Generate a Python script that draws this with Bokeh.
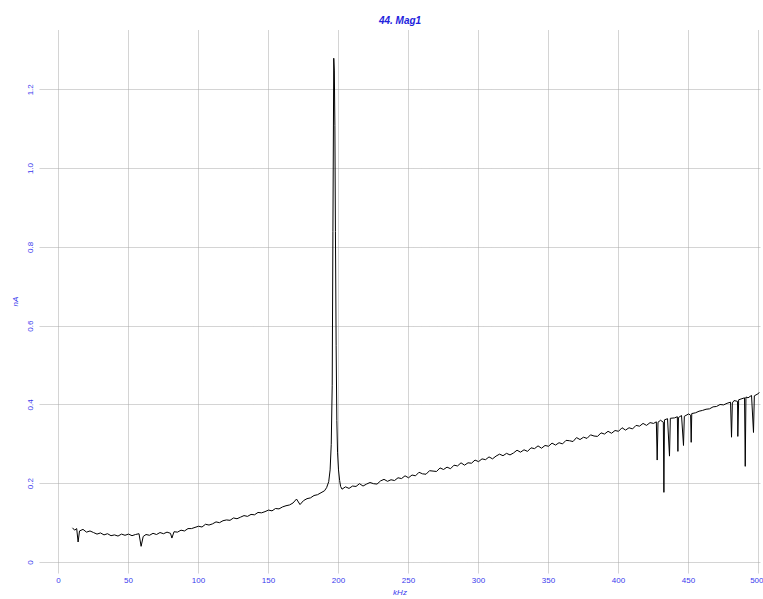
from bokeh.plotting import figure
from bokeh.models import FixedTicker, Range1d
from bokeh.embed import file_html
from bokeh.resources import INLINE

# ---- data ----
freq_khz = [
    10.0, 11.5, 13.0, 14.0, 15.0, 17.5, 20.0, 22.5, 25.0, 27.5,
    30.0, 32.5, 35.0, 37.5, 40.0, 42.5, 45.0, 47.5, 50.0, 52.5,
    55.0, 57.5, 59.0, 60.5, 62.5, 65.0, 67.5, 70.0, 72.5, 75.0,
    77.5, 80.0, 81.0, 82.5, 85.0, 87.5, 90.0, 92.5, 95.0, 97.5,
    100.0, 102.5, 105.0, 107.5, 110.0, 112.5, 115.0, 117.5, 120.0, 122.5,
    125.0, 127.5, 130.0, 132.5, 135.0, 137.5, 140.0, 142.5, 145.0, 147.5,
    150.0, 152.5, 155.0, 157.5, 160.0, 162.5, 165.0, 167.5, 170.0, 172.5,
    175.0, 177.5, 180.0, 182.5, 185.0, 187.5, 190.0, 191.5, 193.0,
    194.0, 194.8, 195.5, 196.0, 196.6, 197.0, 197.4, 197.8, 198.3, 198.8,
    199.3, 200.0, 200.8, 201.5, 202.5,
    205.0, 207.5, 210.0, 212.5, 215.0, 217.5, 220.0, 222.5, 225.0, 227.5,
    230.0, 232.5, 235.0, 237.5, 240.0, 242.5, 245.0, 247.5, 250.0, 252.5,
    255.0, 257.5, 260.0, 262.5, 265.0, 267.5, 270.0, 272.5, 275.0, 277.5,
    280.0, 282.5, 285.0, 287.5, 290.0, 292.5, 295.0, 297.5, 300.0, 302.5,
    305.0, 307.5, 310.0, 312.5, 315.0, 317.5, 320.0, 322.5, 325.0, 327.5,
    330.0, 332.5, 335.0, 337.5, 340.0, 342.5, 345.0, 347.5, 350.0, 352.5,
    355.0, 357.5, 360.0, 362.5, 365.0, 367.5, 370.0, 372.5, 375.0, 377.5,
    380.0, 382.5, 385.0, 387.5, 390.0, 392.5, 395.0, 397.5, 400.0, 402.5,
    405.0, 407.5, 410.0, 412.5, 415.0, 417.5, 420.0, 422.5, 425.0, 427.0,
    427.6, 428.2, 430.0, 432.0, 432.4, 432.8, 435.0, 436.4, 437.0, 440.0,
    442.0, 442.4, 442.8, 445.0, 446.4, 447.0, 450.0, 451.5, 451.9, 452.3,
    455.0, 457.5, 460.0, 462.5, 465.0, 467.5, 470.0, 472.5, 475.0, 477.5,
    480.0, 480.7, 481.3, 482.5, 485.0, 485.2, 485.8, 487.5, 490.0, 490.5,
    491.0, 492.5, 495.0, 496.4, 497.0, 500.0, 500.5,
]
mag_na = [
    0.088, 0.082, 0.086, 0.052, 0.080, 0.084, 0.077, 0.080, 0.076, 0.072,
    0.075, 0.070, 0.073, 0.068, 0.070, 0.067, 0.072, 0.069, 0.072, 0.068,
    0.071, 0.073, 0.041, 0.066, 0.071, 0.069, 0.074, 0.071, 0.076, 0.073,
    0.077, 0.074, 0.062, 0.078, 0.077, 0.082, 0.080, 0.086, 0.086, 0.089,
    0.092, 0.090, 0.097, 0.095, 0.098, 0.103, 0.101, 0.106, 0.108, 0.107,
    0.113, 0.111, 0.115, 0.119, 0.117, 0.122, 0.121, 0.127, 0.126, 0.129,
    0.133, 0.131, 0.137, 0.136, 0.141, 0.144, 0.146, 0.151, 0.161, 0.147,
    0.157, 0.162, 0.164, 0.170, 0.172, 0.177, 0.182, 0.190, 0.205,
    0.235, 0.300, 0.450, 0.840, 1.280, 1.250, 1.110, 0.840, 0.550, 0.360,
    0.280, 0.235, 0.208, 0.193, 0.186,
    0.192, 0.188, 0.194, 0.193, 0.200, 0.194, 0.199, 0.203, 0.200, 0.199,
    0.207, 0.211, 0.206, 0.210, 0.208, 0.215, 0.213, 0.220, 0.215, 0.222,
    0.220, 0.229, 0.225, 0.224, 0.233, 0.232, 0.231, 0.240, 0.236, 0.242,
    0.238, 0.247, 0.245, 0.253, 0.247, 0.253, 0.252, 0.260, 0.256, 0.263,
    0.261, 0.268, 0.263, 0.270, 0.275, 0.271, 0.277, 0.273, 0.278, 0.285,
    0.280, 0.286, 0.282, 0.291, 0.289, 0.296, 0.290, 0.297, 0.295, 0.303,
    0.298, 0.304, 0.301, 0.310, 0.309, 0.307, 0.317, 0.312, 0.318, 0.315,
    0.324, 0.321, 0.320, 0.329, 0.326, 0.333, 0.328, 0.335, 0.333, 0.342,
    0.336, 0.342, 0.339, 0.348, 0.346, 0.353, 0.348, 0.355, 0.353, 0.357,
    0.260, 0.356, 0.361, 0.356, 0.178, 0.362, 0.365, 0.270, 0.366, 0.367,
    0.370, 0.282, 0.368, 0.373, 0.297, 0.371, 0.377, 0.374, 0.305, 0.378,
    0.380, 0.384, 0.386, 0.389, 0.390, 0.395, 0.396, 0.401, 0.400, 0.404,
    0.407, 0.318, 0.405, 0.411, 0.409, 0.320, 0.413, 0.415, 0.418, 0.244,
    0.420, 0.418, 0.424, 0.330, 0.423, 0.429, 0.432,
]

x_ticks = [0, 50, 100, 150, 200, 250, 300, 350, 400, 450, 500]
y_ticks = [0, 0.2, 0.4, 0.6, 0.8, 1.0, 1.2]
y_tick_labels = ["0", "0.2", "0.4", "0.6", "0.8", "1.0", "1.2"]

title_text = "44. Mag1"
x_label = "kHz"
y_label = "nA"

BLUE = "#3a3aee"
FONT = "Liberation Sans"

p = figure(
    width=763, height=599,
    output_backend="svg", toolbar_location=None,
    x_range=Range1d(-13.57, 501.4), y_range=Range1d(-0.028, 1.353),
    min_border_left=39, min_border_right=3, min_border_top=29, min_border_bottom=26,
    background_fill_color="white", border_fill_color="white",
)
p.outline_line_color = None

p.title.text = title_text
p.title.align = "center"
p.title.text_color = "#2222dd"
p.title.text_font = FONT
p.title.text_font_size = "10px"
p.title.text_font_style = "bold italic"
p.title.standoff = 7

p.line(freq_khz, mag_na, line_color="black", line_width=1)

# axes
p.xaxis.ticker = FixedTicker(ticks=x_ticks)
p.yaxis.ticker = FixedTicker(ticks=y_ticks)
p.yaxis.major_label_overrides = {t: lab for t, lab in zip(y_ticks, y_tick_labels)}
p.yaxis.major_label_orientation = "vertical"
p.xaxis.axis_label = x_label
p.yaxis.axis_label = y_label
for ax in (p.xaxis, p.yaxis):
    ax.axis_line_color = None
    ax.major_tick_line_color = None
    ax.minor_tick_line_color = None
    ax.major_tick_out = 0
    ax.major_tick_in = 0
    ax.major_label_text_color = BLUE
    ax.major_label_text_font = FONT
    ax.major_label_text_font_size = "8px"
    ax.axis_label_text_color = BLUE
    ax.axis_label_text_font = FONT
    ax.axis_label_text_font_size = "8px"
    ax.axis_label_text_font_style = "italic"
p.xaxis.major_label_standoff = 4
p.xaxis.axis_label_standoff = 2
p.yaxis.major_label_standoff = 6
p.yaxis.axis_label_standoff = 6

for g in (p.xgrid, p.ygrid):
    g.grid_line_color = "#a8a8a8"
    g.grid_line_dash = "1 1"
    g.grid_line_width = 1

open("out.html", "w").write(file_html(p, INLINE))
